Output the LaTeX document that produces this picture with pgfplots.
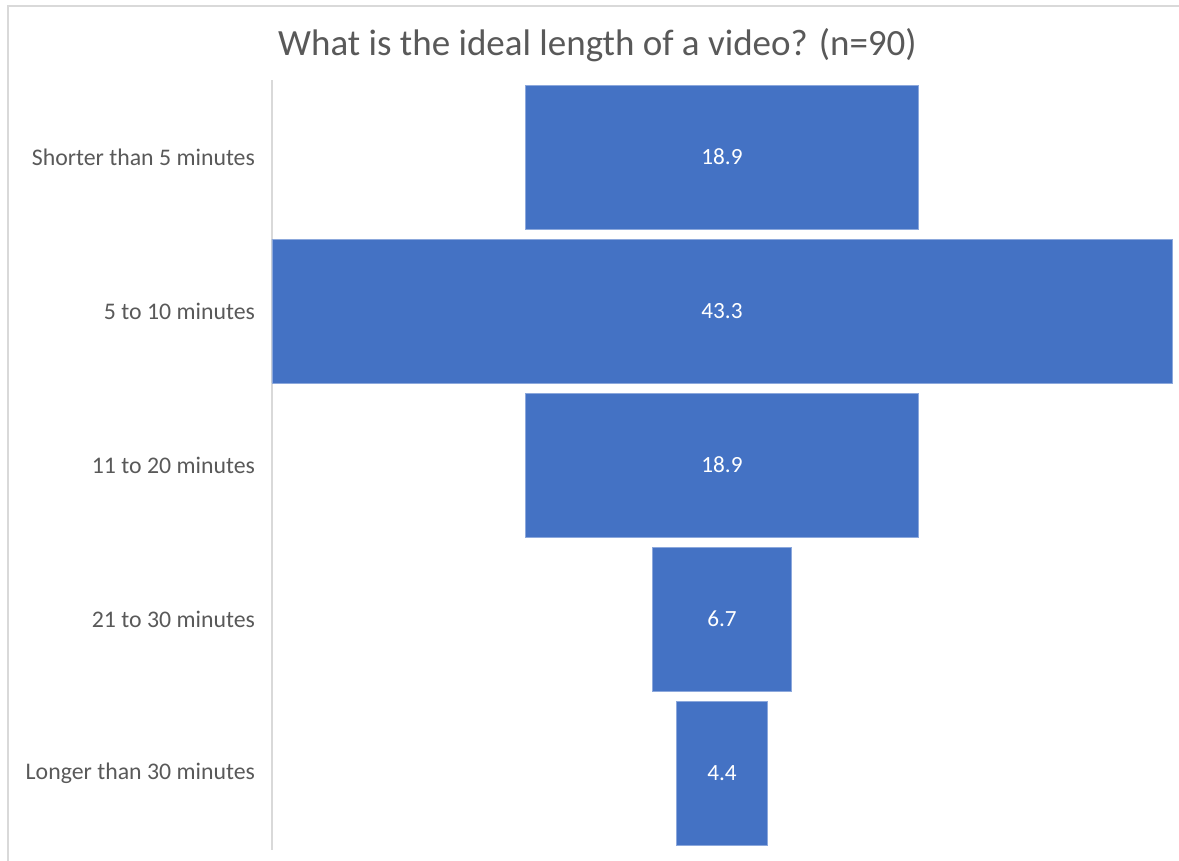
\documentclass[border=0pt]{standalone}
\usepackage{fontspec}
\setmainfont{Carlito}
\usepackage{pgfplots}
\usepackage{pgfplotstable}
\pgfplotsset{compat=1.18}
\definecolor{barblue}{RGB}{68,114,196}
\definecolor{txtgray}{RGB}{89,89,89}
\definecolor{linegray}{RGB}{217,217,217}
\pgfplotstableread{
i off v
0 12.2 18.9
1 0 43.3
2 12.2 18.9
3 18.3 6.7
4 19.45 4.4
}\funneldata
\begin{document}
\begin{tikzpicture}
\path[use as bounding box] (0pt,0pt) rectangle (589.5pt,430.5pt);
\draw[linegray, line width=0.8pt] (4pt,0pt) -- (4pt,427.5pt) -- (589.5pt,427.5pt);
\node[font=\fontsize{18.5}{22}\selectfont, text=txtgray] at (298.75pt,408pt) {What is the ideal length of a video? (n=90)};
\begin{axis}[
  at={(136pt,5.5pt)}, anchor=south west,
  scale only axis, width=450pt, height=385pt,
  xbar stacked,
  bar width=0.935,
  xmin=0, xmax=43.3,
  ymin=-0.5, ymax=4.5,
  y dir=reverse,
  axis x line=none,
  axis y line*=left,
  y axis line style={linegray, line width=0.8pt, -},
  ytick={0,1,2,3,4},
  yticklabels={Shorter than 5 minutes,5 to 10 minutes,11 to 20 minutes,21 to 30 minutes,Longer than 30 minutes},
  major tick length=0pt,
  yticklabel style={font=\fontsize{11.9}{14}\selectfont, text=txtgray, xshift=-5pt},
  clip=false,
]
\addplot[draw=none, fill=none] table[x=off, y=i] {\funneldata};
\addplot[fill=barblue, draw={rgb,255:red,140;green,168;blue,220}, line width=0.3pt] table[x=v, y=i] {\funneldata};
\coordinate (c0) at (axis cs:21.65,0);
\coordinate (c1) at (axis cs:21.65,1);
\coordinate (c2) at (axis cs:21.65,2);
\coordinate (c3) at (axis cs:21.65,3);
\coordinate (c4) at (axis cs:21.65,4);
\end{axis}
\begin{scope}[every node/.style={font=\fontsize{11.6}{14}\selectfont, text=white}]
\node at (c0) {18.9};
\node at (c1) {43.3};
\node at (c2) {18.9};
\node at (c3) {6.7};
\node at (c4) {4.4};
\end{scope}
\end{tikzpicture}
\end{document}
